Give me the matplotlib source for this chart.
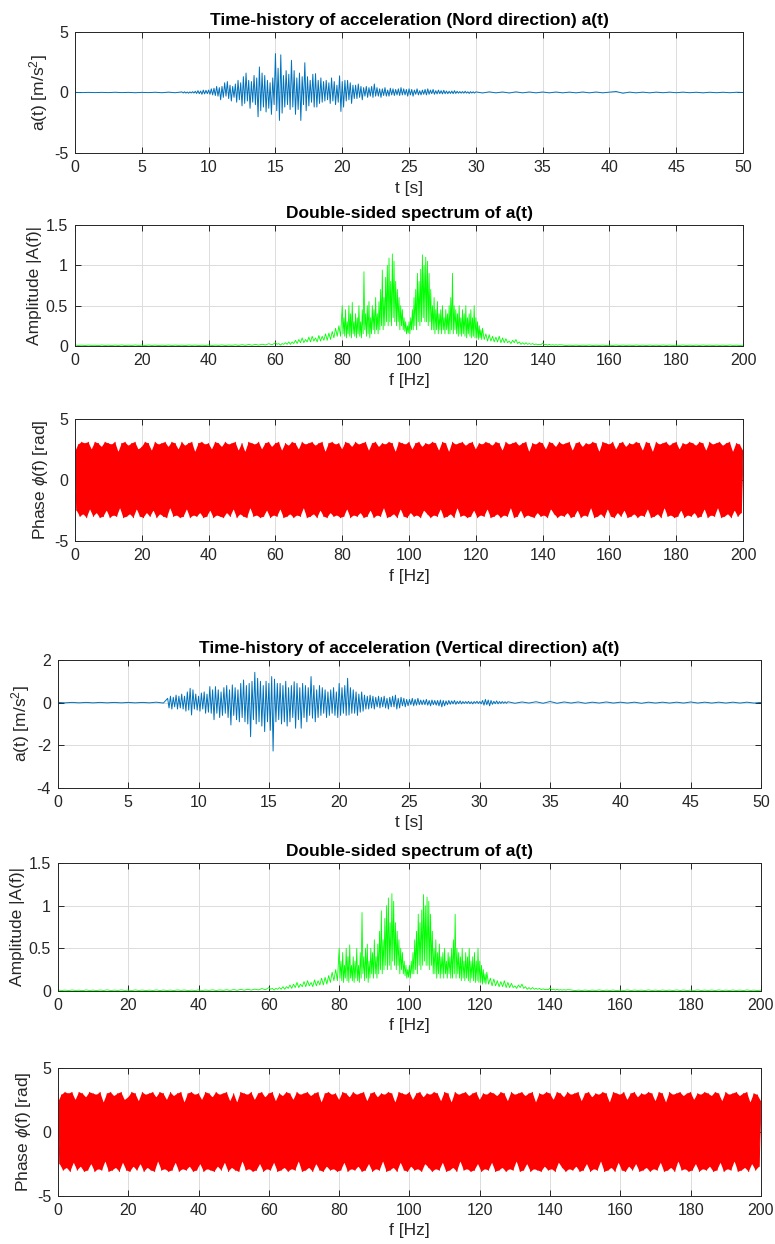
import numpy as np
import matplotlib
matplotlib.use('Agg')
import matplotlib.pyplot as plt
from matplotlib.ticker import FormatStrFormatter

plt.rcParams['font.family'] = ['Liberation Sans', 'DejaVu Sans']
plt.rcParams['mathtext.fontset'] = 'custom'
plt.rcParams['mathtext.rm'] = 'Liberation Sans'
plt.rcParams['mathtext.it'] = 'Liberation Sans:italic'

# ---- time axes (s) ----
t_head = np.arange(0, 16) * 0.5           # 0 .. 7.5
t_nord = np.arange(80, 301) / 10          # 8.0 .. 30.0
t_nord_tail = np.arange(61, 101) * 0.5    # 30.5 .. 50
t_vert = np.arange(78, 321) / 10          # 7.8 .. 32.0
t_vert_tail = np.arange(65, 101) * 0.5    # 32.5 .. 50

# ---- Nord acceleration a(t) [m/s^2] ----
a_nord_head = [0.01, -0.01, 0.01, -0.01, 0.01, -0.01, 0.02, -0.01,
               0.01, -0.02, 0.01, -0.01, 0.02, -0.02, 0.03, -0.02]
a_nord = [
    0.05, -0.04, 0.06, -0.05, 0.04, -0.06, 0.05, -0.04, 0.07, -0.05,
    0.1, -0.08, 0.15, -0.1, 0.12, -0.15, 0.2, -0.12, 0.18, -0.1,
    0.2, -0.15, 0.3, -0.2, 0.35, -0.25, 0.5, -0.3, 0.4, -0.6,
    0.5, -0.4, 0.8, -0.3, 0.9, -0.5, 0.6, -0.7, 0.5, -0.4,
    0.7, -0.8, 1.0, -0.6, 0.8, -1.1, 1.3, -0.9, 1.6, -0.7,
    1.0, -1.3, 0.9, -0.8, 1.4, -1.0, 1.2, -2.0, 2.1, -1.5,
    1.6, -1.2, 1.4, -1.6, 1.0, -1.3, 0.8, -1.8, 1.2, -1.0,
    3.2, -1.5, 2.0, -2.3, 3.1, -1.7, 1.4, -1.2, 1.8, -1.0,
    1.5, -1.4, 2.65, -1.2, 1.8, -1.8, 1.2, -1.4, 1.6, -2.3,
    1.3, -1.0, 2.45, -1.5, 1.3, -1.1, 1.0, -0.8, 1.5, -1.2,
    1.55, -1.2, 1.0, -0.9, 1.2, -0.8, 0.9, -0.7, 1.0, -0.6,
    0.8, -0.9, 1.2, -0.7, 0.9, -1.0, 0.6, -0.8, 1.37, -1.56,
    0.9, -1.2, 1.0, -0.7, 1.0, -0.6, 0.8, -0.9, 0.6, -0.5,
    0.6, -0.5, 0.7, -0.4, 0.5, -0.6, 0.4, -0.3, 0.5, -0.4,
    0.4, -0.3, 0.5, -0.4, 0.7, -0.3, 0.4, -0.3, 0.3, -0.4,
    0.3, -0.25, 0.4, -0.3, 0.2, -0.3, 0.35, -0.2, 0.3, -0.25,
    0.25, -0.2, 0.3, -0.25, 0.4, -0.2, 0.3, -0.2, 0.25, -0.3,
    0.3, -0.2, 0.25, -0.3, 0.2, -0.15, 0.3, -0.2, 0.15, -0.2,
    0.2, -0.15, 0.25, -0.2, 0.3, -0.15, 0.2, -0.1, 0.25, -0.15,
    0.15, -0.12, 0.2, -0.1, 0.15, -0.12, 0.18, -0.1, 0.12, -0.1,
    0.1, -0.08, 0.12, -0.1, 0.15, -0.08, 0.1, -0.06, 0.08, -0.06,
    0.08, -0.06, 0.1, -0.05, 0.06, -0.08, 0.07, -0.05, 0.06, -0.05,
    0.05]
a_nord_tail = [
    -0.04, 0.05, -0.03, 0.04, -0.04, 0.05, -0.03, 0.04, -0.03, 0.04,
    -0.03, 0.04, -0.03, 0.03, -0.03, 0.04, -0.03, 0.04, -0.03, 0.03,
    0.08, -0.06, 0.03, -0.03, 0.03, -0.03, 0.03, -0.02, 0.03, -0.02,
    0.03, -0.02, 0.02, -0.03, 0.02, -0.02, 0.02, -0.02, 0.02, 0.0]

# ---- Vertical acceleration a(t) [m/s^2] ----
a_vert_head = [0.01, -0.01, 0.01, -0.01, 0.01, -0.01, 0.01, -0.01,
               0.01, -0.01, 0.01, -0.01, 0.01, -0.01, 0.02, -0.02]
a_vert = [
    0.2, -0.25,
    0.3, -0.3, 0.25, -0.2, 0.35, -0.3, 0.3, -0.25, 0.4, -0.3,
    0.3, -0.4, 0.5, -0.35, 0.67, -0.58, 0.6, -0.3, 0.4, -0.35,
    0.3, -0.4, 0.45, -0.3, 0.5, -0.5, 0.4, -0.45, 0.75, -0.5,
    0.6, -0.8, 0.75, -0.5, 0.6, -0.7, 0.5, -0.6, 0.7, -0.5,
    0.8, -0.7, 0.6, -1.05, 0.83, -0.6, 0.7, -0.8, 0.6, -0.9,
    0.9, -0.7, 1.06, -0.9, 0.8, -1.0, 0.9, -1.6, 1.0, -0.8,
    1.42, -1.0, 1.14, -0.9, 1.0, -1.1, 0.8, -1.36, 1.0, -0.9,
    0.9, -1.3, 1.22, -2.27, 1.1, -0.9, 0.9, -0.8, 0.9, -1.0,
    0.8, -0.9, 1.0, -1.1, 0.7, -0.9, 0.8, -0.7, 0.98, -1.2,
    0.9, -0.8, 0.7, -1.2, 0.9, -0.7, 0.8, -0.9, 0.7, -0.6,
    1.22, -0.73, 0.8, -0.9, 0.6, -0.7, 0.8, -0.6, 0.7, -0.5,
    0.6, -0.7, 0.5, -0.6, 0.6, -0.5, 0.7, -0.6, 0.5, -0.7,
    0.9, -0.6, 0.7, -0.5, 0.8, -0.6, 1.14, -0.58, 0.7, -0.5,
    0.6, -0.5, 0.5, -0.6, 0.4, -0.45, 0.5, -0.4, 0.35, -0.3,
    0.3, -0.3, 0.35, -0.25, 0.3, -0.3, 0.25, -0.2, 0.3, -0.25,
    0.25, -0.2, 0.3, -0.25, 0.2, -0.3, 0.25, -0.2, 0.3, -0.2,
    0.35, -0.3, 0.2, -0.25, 0.25, -0.15, 0.2, -0.2, 0.15, -0.15,
    0.15, -0.1, 0.2, -0.15, 0.15, -0.12, 0.2, -0.1, 0.12, -0.1,
    0.12, -0.1, 0.15, -0.12, 0.1, -0.15, 0.12, -0.1, 0.1, -0.12,
    0.1, -0.15, 0.12, -0.2, 0.1, -0.15, 0.08, -0.1, 0.1, -0.08,
    0.08, -0.06, 0.1, -0.08, 0.06, -0.05, 0.08, -0.06, 0.05, -0.04,
    0.05, -0.04, 0.06, -0.05, 0.04, -0.06, 0.05, -0.03, 0.06, -0.04,
    0.05,
    -0.06, 0.1, -0.12, 0.15, -0.1, 0.12, -0.15, 0.1, -0.08, 0.06,
    -0.05, 0.08, -0.06, 0.05, -0.04, 0.05, -0.03, 0.04, -0.03, 0.04]
a_vert_tail = [
    -0.03, 0.03, -0.02, 0.04, -0.03, 0.05, -0.03, 0.03, -0.02, 0.03,
    -0.03, 0.02, -0.02, 0.03, -0.02, 0.02, -0.02, 0.02, -0.03, 0.02,
    -0.02, 0.02, -0.02, 0.02, -0.02, 0.03, -0.02, 0.02, -0.02, 0.02,
    -0.02, 0.02, -0.02, 0.02, -0.02, 0.01]

# ---- double-sided amplitude spectrum |A(f)| ----
f_low = np.arange(0, 60)                  # 0 .. 59 Hz
f_rise = np.arange(120, 160) / 2          # 60 .. 79.5 Hz
f_band = np.arange(320, 489) / 4          # 80 .. 122 Hz
f_fall = np.arange(245, 291) / 2          # 122.5 .. 145 Hz
f_high = np.arange(146, 201)              # 146 .. 200 Hz

amp_low = [
    0.012, 0.006, 0.01, 0.005, 0.011, 0.007, 0.009, 0.004, 0.012, 0.006,
    0.01, 0.005, 0.011, 0.006, 0.013, 0.005, 0.01, 0.006, 0.012, 0.007,
    0.01, 0.005, 0.012, 0.006, 0.011, 0.004, 0.01, 0.006, 0.012, 0.005,
    0.011, 0.006, 0.01, 0.005, 0.012, 0.007, 0.011, 0.005, 0.01, 0.006,
    0.012, 0.006, 0.011, 0.007, 0.013, 0.006, 0.012, 0.008, 0.014, 0.007,
    0.016, 0.008, 0.018, 0.009, 0.02, 0.01, 0.022, 0.012, 0.028, 0.015]
amp_rise = [
    0.04, 0.02, 0.03, 0.01, 0.03, 0.02, 0.04, 0.02, 0.05, 0.02,
    0.05, 0.03, 0.07, 0.03, 0.08, 0.04, 0.1, 0.04, 0.08, 0.05,
    0.11, 0.05, 0.12, 0.06, 0.1, 0.05, 0.13, 0.06, 0.12, 0.07,
    0.15, 0.07, 0.16, 0.08, 0.18, 0.1, 0.22, 0.12, 0.25, 0.12]
amp_band = [
    0.5, 0.15, 0.35, 0.12, 0.45, 0.1, 0.3, 0.15, 0.5, 0.12,
    0.4, 0.1, 0.54, 0.15, 0.3, 0.12, 0.4, 0.1, 0.35, 0.15,
    0.5, 0.12, 0.3, 0.1, 0.45, 0.15, 0.92, 0.2, 0.4, 0.12,
    0.5, 0.15, 0.55, 0.1, 0.35, 0.15, 0.5, 0.2, 0.45, 0.15,
    0.6, 0.2, 0.4, 0.15, 0.55, 0.2, 0.7, 0.25, 0.94, 0.2,
    0.6, 0.25, 0.85, 0.3, 1.0, 0.25, 1.09, 0.3, 0.8, 0.25,
    1.14, 0.35, 1.05, 0.3, 0.8, 0.25, 0.7, 0.3, 0.6, 0.2,
    0.5, 0.25, 0.45, 0.2, 0.35, 0.18, 0.3, 0.15, 0.25, 0.16,
    0.3, 0.15, 0.35, 0.2, 0.45, 0.2, 0.6, 0.25, 0.7, 0.2,
    0.9, 0.3, 0.8, 0.25, 0.95, 0.3, 1.13, 0.35, 1.0, 0.3,
    1.1, 0.3, 1.05, 0.25, 0.9, 0.3, 0.7, 0.2, 0.5, 0.2,
    0.6, 0.15, 0.45, 0.2, 0.55, 0.15, 0.4, 0.2, 0.45, 0.15,
    0.5, 0.2, 0.35, 0.15, 0.45, 0.2, 0.4, 0.15, 0.5, 0.15,
    0.6, 0.2, 0.9, 0.15, 0.5, 0.2, 0.45, 0.15, 0.4, 0.12,
    0.5, 0.15, 0.35, 0.12, 0.45, 0.15, 0.4, 0.12, 0.5, 0.1,
    0.35, 0.15, 0.4, 0.12, 0.45, 0.1, 0.35, 0.12, 0.5, 0.1,
    0.35, 0.1, 0.3, 0.08, 0.25, 0.1, 0.2, 0.08, 0.22]
amp_fall = [
    0.08, 0.15, 0.06, 0.14, 0.06, 0.12, 0.05, 0.11, 0.05, 0.12,
    0.04, 0.1, 0.04, 0.09, 0.04, 0.06, 0.03, 0.07, 0.04, 0.08,
    0.03, 0.05, 0.02, 0.04, 0.02, 0.04, 0.02, 0.03, 0.02, 0.03,
    0.015, 0.025, 0.015, 0.02, 0.015, 0.035, 0.015, 0.02, 0.01, 0.02,
    0.01, 0.015, 0.01, 0.015, 0.01, 0.015]
amp_high = [
    0.012, 0.005, 0.01, 0.006, 0.011, 0.005, 0.01, 0.007, 0.012, 0.005,
    0.01, 0.006, 0.011, 0.004, 0.01, 0.006, 0.012, 0.005, 0.011, 0.006,
    0.01, 0.005, 0.012, 0.006, 0.01, 0.004, 0.011, 0.006, 0.01, 0.005,
    0.012, 0.006, 0.011, 0.005, 0.01, 0.006, 0.012, 0.005, 0.01, 0.006,
    0.011, 0.005, 0.012, 0.006, 0.01, 0.005, 0.011, 0.006, 0.01, 0.005,
    0.012, 0.006, 0.01, 0.005, 0.01]

# ---- phase phi(f) [rad]: upper values at whole Hz, lower values half-way ----
phase_hi = [
    2.3, 2.9, 3.1, 3.0, 3.1, 2.5, 3.1, 3.0, 2.7, 3.1, 3.0, 2.9, 3.1, 2.3, 3.0, 3.1, 2.8, 3.0, 3.1, 2.5,
    2.7, 3.1, 3.0, 2.4, 3.1, 2.9, 3.0, 3.1, 2.7, 3.1, 3.0, 2.5, 3.1, 2.8, 3.0, 3.1, 2.3, 3.0, 3.1, 2.9,
    3.0, 2.5, 3.1, 3.0, 2.7, 3.1, 2.9, 3.0, 3.1, 2.4, 3.0, 2.3, 3.1, 3.0, 2.9, 3.1, 2.5, 3.0, 3.1, 2.7,
    3.0, 3.1, 2.4, 3.0, 2.8, 3.1, 3.0, 2.5, 3.1, 2.9, 3.0, 3.1, 2.8, 3.0, 3.1, 2.3, 3.0, 3.1, 2.9, 3.0,
    2.5, 3.1, 3.0, 2.7, 3.1, 2.9, 3.0, 3.1, 2.4, 3.0, 3.1, 2.7, 3.0, 2.9, 3.1, 3.0, 2.3, 3.1, 3.0, 2.9,
    3.1, 2.5, 3.0, 3.1, 2.7, 3.0, 2.9, 3.1, 3.0, 2.4, 3.1, 3.0, 2.3, 3.1, 2.9, 3.0, 3.1, 2.8, 3.0, 3.1,
    2.5, 3.0, 2.9, 3.1, 3.0, 2.8, 3.1, 3.0, 2.4, 3.1, 2.9, 3.0, 3.1, 2.8, 3.0, 3.1, 2.3, 3.0, 2.9, 3.1,
    3.0, 2.5, 3.1, 3.0, 2.7, 3.1, 2.9, 3.0, 3.1, 2.4, 3.0, 3.1, 2.7, 3.0, 2.9, 3.1, 3.0, 2.3, 3.1, 3.0,
    2.9, 3.1, 2.5, 3.0, 3.1, 2.7, 3.0, 2.9, 3.1, 3.0, 2.4, 3.1, 3.0, 2.3, 3.1, 2.9, 3.0, 3.1, 2.8, 3.0,
    3.1, 2.5, 3.0, 2.9, 3.1, 3.0, 2.8, 3.1, 3.0, 2.4, 3.1, 2.9, 3.0, 3.1, 2.8, 3.0, 3.1, 2.3, 3.0, 2.9,
    2.4]
phase_lo = [
    -2.5, -3.0, -2.8, -3.1, -2.4, -3.0, -2.7, -3.1, -3.0, -2.5, -3.1, -2.9, -3.0, -2.3, -3.1, -3.0, -2.8, -3.1, -2.4, -3.0,
    -3.1, -2.7, -3.0, -2.5, -3.1, -2.8, -3.0, -3.1, -2.3, -3.0, -2.9, -3.1, -3.0, -2.4, -3.1, -2.9, -3.0, -2.7, -3.1, -3.0,
    -2.5, -3.1, -2.9, -3.0, -3.1, -2.7, -3.0, -2.4, -3.1, -2.8, -3.0, -3.1, -2.3, -3.0, -2.9, -3.1, -3.0, -2.5, -3.1, -2.9,
    -3.0, -2.4, -3.1, -3.0, -2.8, -3.1, -2.9, -3.0, -2.3, -3.1, -3.0, -2.8, -3.1, -2.5, -3.0, -3.1, -2.7, -3.0, -2.9, -3.1,
    -3.0, -2.4, -3.1, -2.9, -3.0, -2.7, -3.1, -3.0, -2.5, -3.1, -2.9, -3.0, -2.3, -3.1, -3.0, -2.8, -3.1, -2.4, -3.0, -3.1,
    -2.7, -3.0, -2.9, -3.1, -2.5, -2.8, -3.1, -2.9, -3.0, -2.4, -3.1, -3.0, -2.8, -3.1, -2.3, -3.0, -2.9, -3.1, -3.0, -2.5,
    -3.1, -2.9, -3.0, -2.4, -3.1, -3.0, -2.8, -3.1, -2.9, -3.0, -2.3, -3.1, -3.0, -2.5, -3.1, -2.9, -3.0, -3.1, -2.7, -3.0,
    -2.9, -3.1, -2.4, -2.8, -3.1, -2.9, -3.0, -2.7, -3.1, -3.0, -2.5, -3.1, -2.9, -3.0, -2.3, -3.1, -3.0, -2.8, -3.1, -2.4,
    -3.0, -3.1, -2.7, -3.0, -2.5, -3.1, -3.0, -2.8, -3.1, -2.9, -3.0, -2.4, -3.1, -3.0, -2.8, -3.1, -2.3, -3.0, -2.9, -3.1,
    -3.0, -2.5, -3.1, -2.9, -3.0, -2.7, -3.1, -3.0, -2.4, -3.1, -2.9, -3.0, -2.3, -3.1, -3.0, -2.8, -3.1, -2.5, -3.0, -2.7]

t_ticks = np.arange(0, 55, 5)
f_ticks = np.arange(0, 220, 20)

t_n = np.concatenate([t_head, t_nord, t_nord_tail])
a_n = np.concatenate([a_nord_head, a_nord, a_nord_tail])
t_v = np.concatenate([t_head, t_vert, t_vert_tail])
a_v = np.concatenate([a_vert_head, a_vert, a_vert_tail])

f_amp = np.concatenate([f_low, f_rise, f_band, f_fall, f_high])
amp = np.concatenate([amp_low, amp_rise, amp_band, amp_fall, amp_high])

f_hi = np.arange(0, 201)
f_lo = np.arange(0, 200) + 0.5
f_ph = np.arange(0, 401) / 2
phase = np.empty(401)
phase[0::2] = phase_hi
phase[1::2] = phase_lo
# outline of the phase band: upper peaks forward, lower peaks back
band_f = np.concatenate([f_hi, f_lo[::-1]])
band_p = np.concatenate([phase_hi, phase_lo[::-1]])

BLUE = '#0072BD'
INK = '#262626'


def dress(ax, xlim, ylim, xt, yt, xlabel, ylabel, title=None):
    ax.set_xlim(xlim)
    ax.set_ylim(ylim)
    ax.set_xticks(xt)
    ax.set_yticks(yt)
    ax.yaxis.set_major_formatter(FormatStrFormatter('%g'))
    ax.grid(True, color='#dcdcdc', linewidth=0.7)
    ax.set_axisbelow(True)
    ax.tick_params(direction='in', top=True, right=True, length=4, width=0.7,
                   labelsize=11.5, colors=INK, pad=5)
    for s in ax.spines.values():
        s.set_color(INK)
        s.set_linewidth(0.7)
    ax.set_xlabel(xlabel, fontsize=12.5, color=INK, labelpad=4)
    ax.set_ylabel(ylabel, fontsize=12.5, color=INK, labelpad=3)
    if title:
        ax.set_title(title, fontsize=12.5, fontweight='bold', color='black', pad=5)


fig = plt.figure(figsize=(7.75, 12.44), dpi=100)

# Nord direction
ax1 = fig.add_axes([0.0968, 0.8768, 0.862, 0.0977])
ax1.plot(t_n, a_n, color=BLUE, linewidth=0.7)
dress(ax1, (0, 50), (-5, 5), t_ticks, [-5, 0, 5], 't [s]', 'a(t) [m/s$^2$]',
      'Time-history of acceleration (Nord direction) a(t)')

ax2 = fig.add_axes([0.0968, 0.7219, 0.862, 0.0973])
ax2.plot(f_amp, amp, color='#00FF00', linewidth=0.6)
dress(ax2, (0, 200), (0, 1.5), f_ticks, [0, 0.5, 1, 1.5], 'f [Hz]',
      'Amplitude |A(f)|', 'Double-sided spectrum of a(t)')

ax3 = fig.add_axes([0.0968, 0.5651, 0.862, 0.0981])
ax3.fill(band_f, band_p, color='#FF0000', linewidth=0)
ax3.plot(f_ph, phase, color='#FF0000', linewidth=0.6)
dress(ax3, (0, 200), (-5, 5), f_ticks, [-5, 0, 5], 'f [Hz]',
      r'Phase $\phi$(f) [rad]')

# Vertical direction
ax4 = fig.add_axes([0.0748, 0.3666, 0.9071, 0.1029])
ax4.plot(t_v, a_v, color=BLUE, linewidth=0.7)
dress(ax4, (0, 50), (-4, 2), t_ticks, [-4, -2, 0, 2], 't [s]', 'a(t) [m/s$^2$]',
      'Time-history of acceleration (Vertical direction) a(t)')

ax5 = fig.add_axes([0.0748, 0.2034, 0.9071, 0.1029])
ax5.plot(f_amp, amp, color='#00FF00', linewidth=0.6)
dress(ax5, (0, 200), (0, 1.5), f_ticks, [0, 0.5, 1, 1.5], 'f [Hz]',
      'Amplitude |A(f)|', 'Double-sided spectrum of a(t)')

ax6 = fig.add_axes([0.0748, 0.0386, 0.9071, 0.1029])
ax6.fill(band_f, band_p, color='#FF0000', linewidth=0)
ax6.plot(f_ph, phase, color='#FF0000', linewidth=0.6)
dress(ax6, (0, 200), (-5, 5), f_ticks, [-5, 0, 5], 'f [Hz]',
      r'Phase $\phi$(f) [rad]')

fig.savefig('out.png', dpi=100)
